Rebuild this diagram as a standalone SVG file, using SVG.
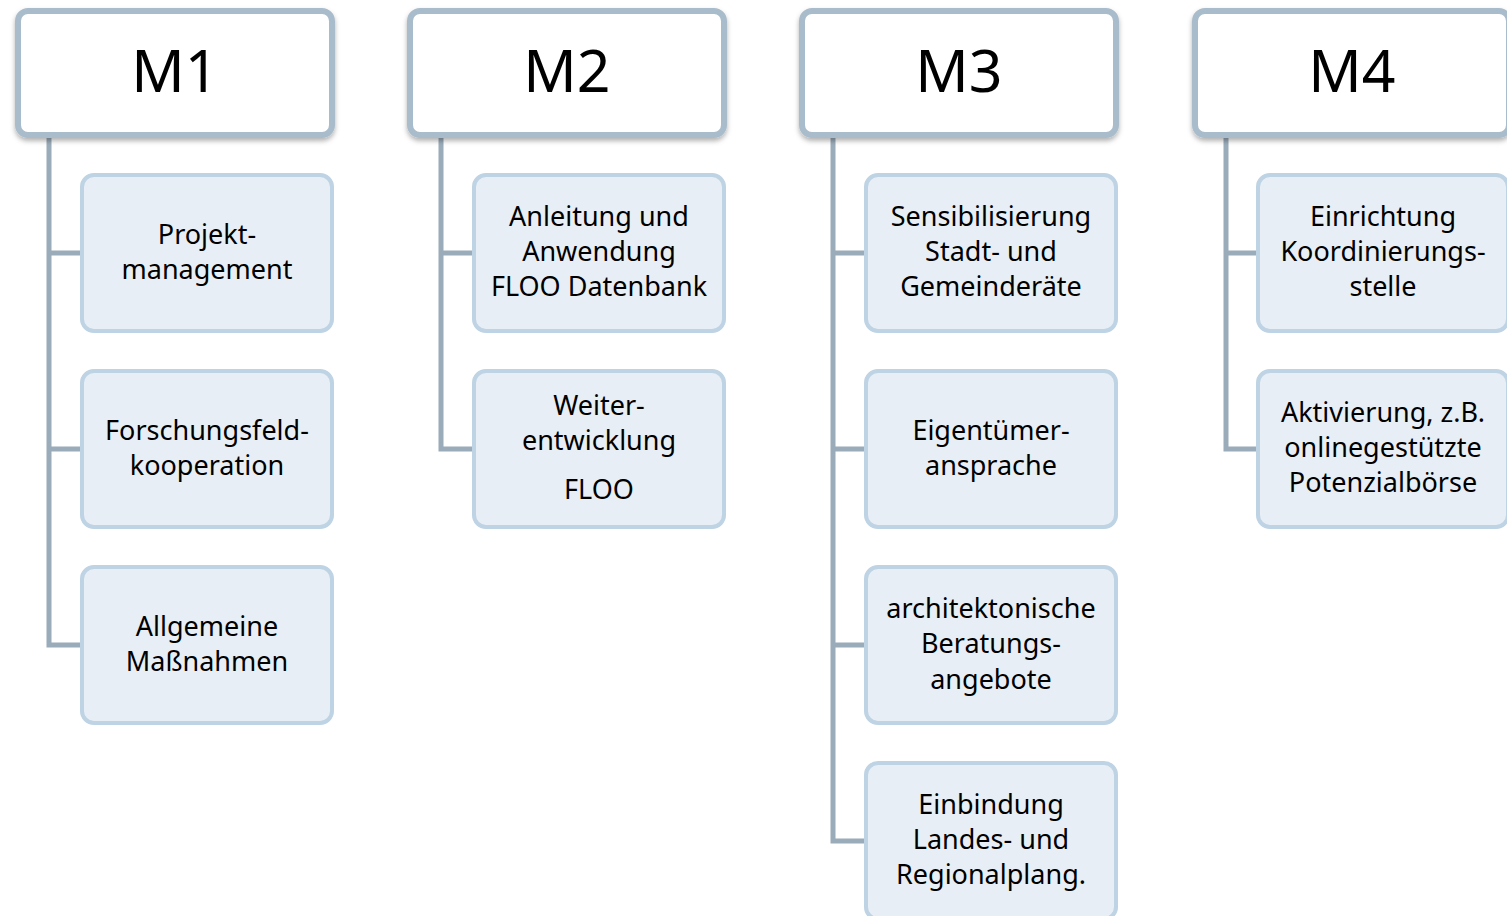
<svg xmlns="http://www.w3.org/2000/svg" width="1507" height="916" viewBox="0 0 1507 916">
<defs>
<filter id="sh" x="-10%" y="-10%" width="120%" height="130%">
<feDropShadow dx="0" dy="3" stdDeviation="2.5" flood-color="#000" flood-opacity="0.3"/>
</filter>
<style>
.hd{fill:#fff;stroke:#a9bccb;stroke-width:6}
.ch{fill:#e8eef5;stroke:#bed3e4;stroke-width:4}
.ht{font-family:"Noto Sans","Open Sans",sans-serif;font-size:59px;fill:#000;text-anchor:middle}
.ct{font-family:"Noto Sans","Open Sans",sans-serif;font-size:27px;fill:#000;text-anchor:middle}
.cn{fill:none;stroke:#9aabb9;stroke-width:5}
</style>
</defs>
<rect width="1507" height="916" fill="#fff"/>
<g id="connectors">
<path class="cn" d="M49,136 V645 H82 M49,253 H82 M49,449 H82"/>
<path class="cn" d="M441,136 V449 H474 M441,253 H474"/>
<path class="cn" d="M833,136 V841 H866 M833,253 H866 M833,449 H866 M833,645 H866"/>
<path class="cn" d="M1226,136 V449 H1258 M1226,253 H1258"/>
</g>
<g id="M1"><rect class="hd" x="18" y="11" width="314" height="124" rx="10" filter="url(#sh)"/><text class="ht" x="175" y="92">M1</text></g>
<g id="M2"><rect class="hd" x="410" y="11" width="314" height="124" rx="10" filter="url(#sh)"/><text class="ht" x="567" y="92">M2</text></g>
<g id="M3"><rect class="hd" x="802" y="11" width="314" height="124" rx="10" filter="url(#sh)"/><text class="ht" x="959" y="92">M3</text></g>
<g id="M4"><rect class="hd" x="1195" y="11" width="314" height="124" rx="10" filter="url(#sh)"/><text class="ht" x="1352" y="92">M4</text></g>

<g id="m1a"><rect class="ch" x="82" y="175" width="250" height="156" rx="12"/><text class="ct" x="207" y="244">Projekt-</text><text class="ct" x="207" y="279">management</text></g>
<g id="m1b"><rect class="ch" x="82" y="371" width="250" height="156" rx="12"/><text class="ct" x="207" y="440">Forschungsfeld-</text><text class="ct" x="207" y="475">kooperation</text></g>
<g id="m1c"><rect class="ch" x="82" y="567" width="250" height="156" rx="12"/><text class="ct" x="207" y="636">Allgemeine</text><text class="ct" x="207" y="671">Maßnahmen</text></g>

<g id="m2a"><rect class="ch" x="474" y="175" width="250" height="156" rx="12"/><text class="ct" x="599" y="226">Anleitung und</text><text class="ct" x="599" y="261">Anwendung</text><text class="ct" x="599" y="296">FLOO Datenbank</text></g>
<g id="m2b"><rect class="ch" x="474" y="371" width="250" height="156" rx="12"/><text class="ct" x="599" y="415">Weiter-</text><text class="ct" x="599" y="450">entwicklung</text><text class="ct" x="599" y="499">FLOO</text></g>

<g id="m3a"><rect class="ch" x="866" y="175" width="250" height="156" rx="12"/><text class="ct" x="991" y="226">Sensibilisierung</text><text class="ct" x="991" y="261">Stadt- und</text><text class="ct" x="991" y="296">Gemeinderäte</text></g>
<g id="m3b"><rect class="ch" x="866" y="371" width="250" height="156" rx="12"/><text class="ct" x="991" y="440">Eigentümer-</text><text class="ct" x="991" y="475">ansprache</text></g>
<g id="m3c"><rect class="ch" x="866" y="567" width="250" height="156" rx="12"/><text class="ct" x="991" y="618">architektonische</text><text class="ct" x="991" y="653">Beratungs-</text><text class="ct" x="991" y="689">angebote</text></g>
<g id="m3d"><rect class="ch" x="866" y="763" width="250" height="156" rx="12"/><text class="ct" x="991" y="814">Einbindung</text><text class="ct" x="991" y="849">Landes- und</text><text class="ct" x="991" y="884">Regionalplang.</text></g>

<g id="m4a"><rect class="ch" x="1258" y="175" width="250" height="156" rx="12"/><text class="ct" x="1383" y="226">Einrichtung</text><text class="ct" x="1383" y="261">Koordinierungs-</text><text class="ct" x="1383" y="296">stelle</text></g>
<g id="m4b"><rect class="ch" x="1258" y="371" width="250" height="156" rx="12"/><text class="ct" x="1383" y="422">Aktivierung, z.B.</text><text class="ct" x="1383" y="457">onlinegestützte</text><text class="ct" x="1383" y="492">Potenzialbörse</text></g>
</svg>
